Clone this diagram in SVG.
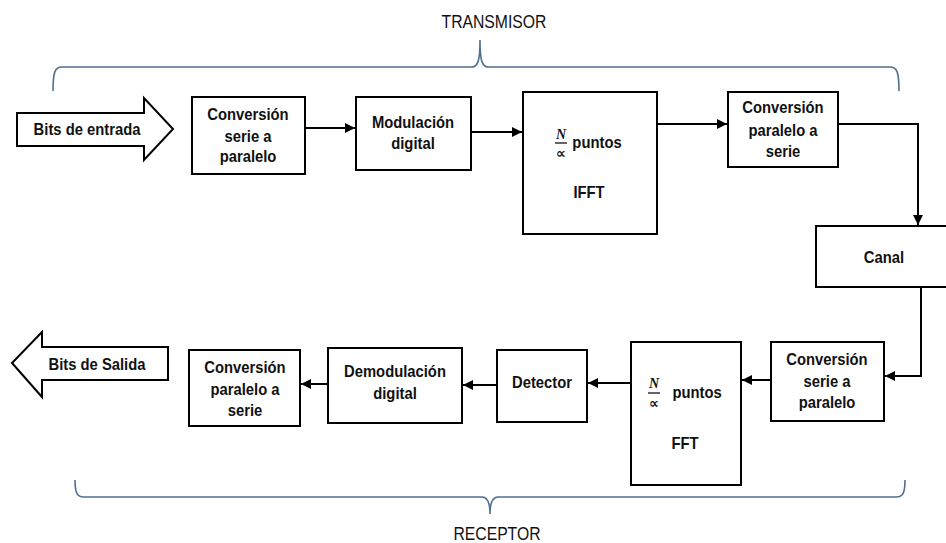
<svg xmlns="http://www.w3.org/2000/svg" width="946" height="543" viewBox="0 0 946 543">
  <style>
    .box { fill: #ffffff; stroke: #000000; stroke-width: 2; }
    .big { fill: #ffffff; stroke: #000000; stroke-width: 2; stroke-linejoin: miter; }
    .t { font-family: "Liberation Sans", Arial, sans-serif; font-size: 17px; font-weight: bold; fill: #111111; text-anchor: middle;
         transform-box: fill-box; transform-origin: center; transform: scaleX(0.87); }
    .lbl { font-family: "Liberation Sans", Arial, sans-serif; font-size: 17.5px; fill: #111111; text-anchor: middle;
           transform-box: fill-box; transform-origin: center; transform: scaleX(0.9); }
    .num { font-family: "Liberation Serif", "Times New Roman", serif; font-size: 14px; font-style: italic; font-weight: bold; fill: #111111; text-anchor: middle; }
    .den { font-family: "DejaVu Sans", sans-serif; font-size: 14px; font-weight: bold; fill: #111111; text-anchor: middle; }
    .wire { fill: none; stroke: #000000; stroke-width: 2; marker-end: url(#head); }
    .brace { fill: none; stroke: #4f6f8f; stroke-width: 1.6; }
  </style>
  <defs>
    <marker id="head" markerUnits="userSpaceOnUse" markerWidth="11" markerHeight="10" refX="10" refY="5" orient="auto">
      <path d="M0,0 L10,5 L0,10 z" fill="#000000"/>
    </marker>
  </defs>

  <!-- section braces and titles -->
  <g id="transmisor">
    <path class="brace" d="M53,91 C53,72 55,67 62,67 H472 C478,67 480,60 480,40 C480,60 482,67 488,67 H890 C897,67 899,72 899,91"/>
    <text class="lbl" x="494" y="28">TRANSMISOR</text>
  </g>
  <g id="receptor">
    <path class="brace" d="M75,480 C75,493 77,497 84,497 H482 C488,497 490,503 490,514 C490,503 492,497 498,497 H896 C903,497 905,493 905,480"/>
    <text class="lbl" x="497" y="540">RECEPTOR</text>
  </g>

  <!-- input / output block arrows -->
  <g id="bits-entrada">
    <path class="big" d="M17,113 H144 V98 L173,129 L144,160 V146 H17 Z"/>
    <text class="t" x="87" y="135">Bits de entrada</text>
  </g>
  <g id="bits-salida">
    <path class="big" d="M168,347 H42 V332 L12,363 L42,397 V380 H168 Z"/>
    <text class="t" x="97" y="370">Bits de Salida</text>
  </g>

  <!-- transmitter chain -->
  <g id="sp-tx">
    <rect class="box" x="192" y="97" width="113" height="77"/>
    <text class="t" x="248" y="120">Conversión</text>
    <text class="t" x="248" y="142">serie a</text>
    <text class="t" x="248" y="162">paralelo</text>
  </g>
  <g id="modulacion">
    <rect class="box" x="356" y="97" width="115" height="73"/>
    <text class="t" x="413" y="128">Modulación</text>
    <text class="t" x="413" y="149">digital</text>
  </g>
  <g id="ifft">
    <rect class="box" x="523" y="92" width="134" height="142"/>
    <text class="num" x="561" y="139">N</text>
    <line x1="555" y1="143" x2="567" y2="143" stroke="#111111" stroke-width="1.3"/>
    <text class="den" x="561" y="158">∝</text>
    <text class="t" x="597" y="148">puntos</text>
    <text class="t" x="589" y="198">IFFT</text>
  </g>
  <g id="ps-tx">
    <rect class="box" x="728" y="92" width="110" height="75"/>
    <text class="t" x="783" y="113">Conversión</text>
    <text class="t" x="783" y="136">paralelo a</text>
    <text class="t" x="783" y="157">serie</text>
  </g>
  <g id="canal">
    <rect class="box" x="816" y="226" width="140" height="61"/>
    <text class="t" x="884" y="263">Canal</text>
  </g>

  <!-- receiver chain -->
  <g id="sp-rx">
    <rect class="box" x="771" y="342" width="113" height="79"/>
    <text class="t" x="827" y="365">Conversión</text>
    <text class="t" x="827" y="387">serie a</text>
    <text class="t" x="827" y="408">paralelo</text>
  </g>
  <g id="fft">
    <rect class="box" x="631" y="342" width="110" height="143"/>
    <text class="num" x="654" y="388">N</text>
    <line x1="648" y1="393" x2="660" y2="393" stroke="#111111" stroke-width="1.3"/>
    <text class="den" x="654" y="408">∝</text>
    <text class="t" x="697" y="398">puntos</text>
    <text class="t" x="685" y="449">FFT</text>
  </g>
  <g id="detector">
    <rect class="box" x="497" y="350" width="90" height="72"/>
    <text class="t" x="542" y="388">Detector</text>
  </g>
  <g id="demodulacion">
    <rect class="box" x="328" y="348" width="134" height="75"/>
    <text class="t" x="395" y="377">Demodulación</text>
    <text class="t" x="395" y="399">digital</text>
  </g>
  <g id="ps-rx">
    <rect class="box" x="189" y="350" width="111" height="76"/>
    <text class="t" x="245" y="373">Conversión</text>
    <text class="t" x="245" y="395">paralelo a</text>
    <text class="t" x="245" y="416">serie</text>
  </g>

  <!-- signal flow -->
  <g id="connectors">
    <path class="wire" d="M305,128 H355"/>
    <path class="wire" d="M471,132 H522"/>
    <path class="wire" d="M657,124 H727"/>
    <path class="wire" d="M838,124 H918 V225"/>
    <path class="wire" d="M921,287 V376 H885"/>
    <path class="wire" d="M771,380 H742"/>
    <path class="wire" d="M631,383 H588"/>
    <path class="wire" d="M497,385 H463"/>
    <path class="wire" d="M328,384 H301"/>
  </g>
</svg>
